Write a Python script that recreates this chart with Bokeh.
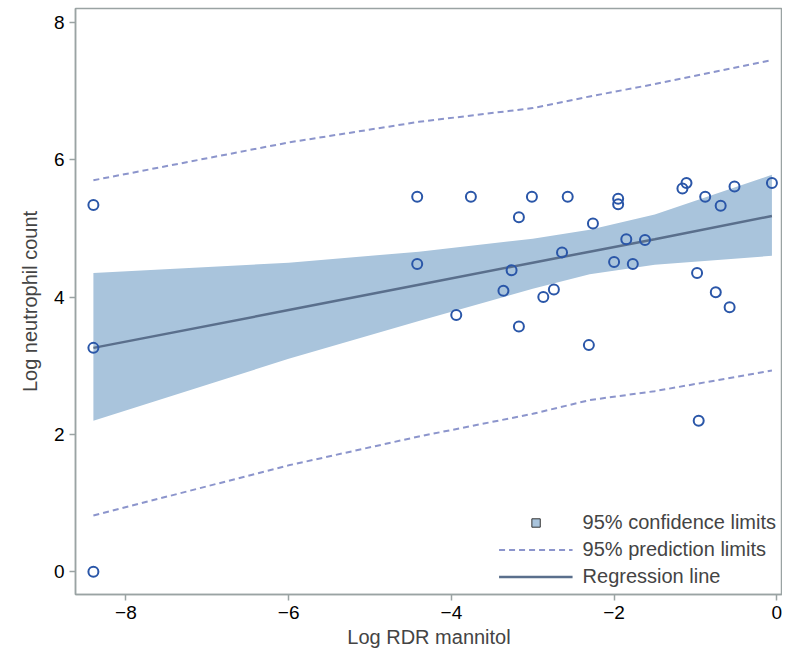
from bokeh.plotting import figure
from bokeh.models import Range1d, Legend, LegendItem, FixedTicker
from bokeh.embed import file_html
from bokeh.resources import INLINE

# observed points
obs_x = [-8.4, -8.4, -8.4, -4.42, -4.42, -3.94, -3.76, -3.17, -3.17, -3.36, -3.26,
         -3.01, -2.87, -2.74, -2.64, -2.57, -2.31, -2.26, -2.00, -1.95, -1.95,
         -1.85, -1.77, -1.62, -1.16, -1.11, -0.98, -0.96, -0.88, -0.75, -0.69,
         -0.58, -0.52, -0.06]
obs_y = [5.34, 3.26, 0.0, 5.46, 4.48, 3.74, 5.46, 5.16, 3.57, 4.09, 4.39,
         5.46, 4.00, 4.11, 4.65, 5.46, 3.30, 5.07, 4.51, 5.43, 5.35,
         4.84, 4.48, 4.83, 5.58, 5.66, 4.35, 2.20, 5.46, 4.07, 5.33,
         3.85, 5.61, 5.66]

# fitted curves
fit_x = [-8.4, -6.0, -4.4, -3.0, -2.3, -1.5, -0.06]
reg_y = [3.26, 3.81, 4.18, 4.50, 4.66, 4.84, 5.18]
ci_upper = [4.35, 4.50, 4.66, 4.85, 4.98, 5.20, 5.78]
ci_lower = [2.20, 3.10, 3.65, 4.12, 4.33, 4.47, 4.60]
pi_upper = [5.70, 6.25, 6.55, 6.75, 6.92, 7.10, 7.45]
pi_lower = [0.82, 1.55, 1.97, 2.30, 2.50, 2.63, 2.93]

x_ticks = [-8, -6, -4, -2, 0]
y_ticks = [0, 2, 4, 6, 8]

FONT = "Liberation Sans"
AXIS_COL = "#9aa3a3"

p = figure(width=782, height=650, output_backend="svg", toolbar_location=None,
           x_range=Range1d(-8.62, 0.07), y_range=Range1d(-0.33, 8.2),
           min_border_left=75, min_border_top=8, min_border_right=0, min_border_bottom=43)

p.grid.visible = False
p.outline_line_color = AXIS_COL
p.outline_line_width = 1.5
p.xaxis.ticker = FixedTicker(ticks=x_ticks)
p.yaxis.ticker = FixedTicker(ticks=y_ticks)
p.xaxis.major_label_overrides = {v: ("\u2212%d" % -v if v < 0 else "%d" % v) for v in x_ticks}
for ax in (p.xaxis, p.yaxis):
    ax.axis_line_color = AXIS_COL
    ax.axis_line_width = 1.5
    ax.major_tick_line_color = AXIS_COL
    ax.major_tick_line_width = 1.5
    ax.major_tick_in = 0
    ax.major_tick_out = 6
    ax.minor_tick_line_color = None
    ax.major_label_text_font = FONT
    ax.major_label_text_font_size = "19px"
    ax.major_label_text_color = "black"
    ax.axis_label_text_font = FONT
    ax.axis_label_text_font_size = "20px"
    ax.axis_label_text_font_style = "normal"
p.xaxis.axis_label = "Log RDR mannitol"
p.yaxis.axis_label = "Log neutrophil count"
p.yaxis.axis_label_standoff = 10
p.xaxis.axis_label_standoff = 4

band = p.varea(x=fit_x, y1=ci_lower, y2=ci_upper, fill_color="#a9c4dc", fill_alpha=1)
pu = p.line(fit_x, pi_upper, line_color="#8c95cc", line_width=2, line_dash="6 4")
p.line(fit_x, pi_lower, line_color="#8c95cc", line_width=2, line_dash="6 4")
reg = p.line(fit_x, reg_y, line_color="#5a6f8c", line_width=2.5)
p.scatter(obs_x, obs_y, marker="circle", size=10, fill_color=None,
          line_color="#2a56a8", line_width=2)

sq = p.scatter([-100], [-100], marker="square", size=16, fill_color="#a9c4dc",
               line_color="#333333", line_width=1)
legend = Legend(items=[
    LegendItem(label="95% confidence limits", renderers=[sq]),
    LegendItem(label="95% prediction limits", renderers=[pu]),
    LegendItem(label="Regression line", renderers=[reg]),
], location="bottom_right", border_line_color=None, background_fill_alpha=0,
    label_text_font=FONT, label_text_font_size="20px", glyph_width=74,
    glyph_height=21, spacing=4, margin=6, padding=0, label_standoff=10)
p.add_layout(legend)

open("out.html", "w").write(file_html(p, INLINE))
